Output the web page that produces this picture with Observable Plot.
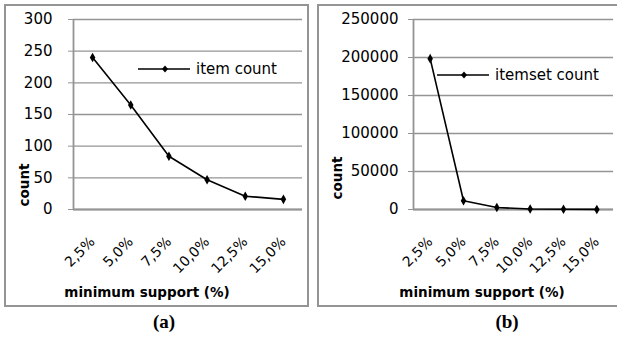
<!DOCTYPE html>
<html>
<head>
<meta charset="utf-8">
<script src="https://cdn.jsdelivr.net/npm/d3@7"></script>
<script src="https://cdn.jsdelivr.net/npm/@observablehq/plot@0.6"></script>
<style>
  html, body { margin: 0; padding: 0; background: #fff; }
  #page { position: relative; width: 617px; height: 338px; overflow: hidden; font-family: "DejaVu Sans", sans-serif; color: #000; }
  .box { position: absolute; box-sizing: border-box; border: 2px solid #949494; }
  .plot { position: absolute; top: 0; }
  .plot svg { overflow: visible; }
  .plot [aria-label="y-axis tick"] { stroke: #949494; }
  .legend { position: absolute; display: flex; align-items: center; font-size: 15px; white-space: nowrap; }
  .xtitle { position: absolute; font-weight: bold; font-size: 13.5px; transform: translate(-50%, -50%); white-space: nowrap; }
  .ytitle { position: absolute; font-weight: bold; font-size: 13.5px; transform: translate(-50%, -50%) rotate(-90deg); white-space: nowrap; }
  .panel-label { position: absolute; font-family: "Liberation Serif", "DejaVu Serif", serif; font-weight: bold; font-size: 19px; transform: translate(-50%, -50%); }
</style>
</head>
<body>
<div id="page">
  <div class="box" style="left:4px; top:4px; width:305px; height:303px;"></div>
  <div class="box" style="left:317px; top:4px; width:310px; height:303px;"></div>
  <div id="plotA" class="plot" style="left:0px;"></div>
  <div id="plotB" class="plot" style="left:310px;"></div>
  <div class="legend" id="legA" style="left:138px; top:59px;"></div>
  <div class="legend" id="legB" style="left:437px; top:65px;"></div>
  <div class="ytitle" style="left:24px; top:185px;">count</div>
  <div class="ytitle" style="left:337px; top:178px;">count</div>
  <div class="xtitle" style="left:147px; top:292px;">minimum support (%)</div>
  <div class="xtitle" style="left:482px; top:292px;">minimum support (%)</div>
  <div class="panel-label" style="left:164px; top:322px;">(a)</div>
  <div class="panel-label" style="left:507px; top:322px;">(b)</div>
</div>
<script>
const categories = ["2,5%", "5,0%", "7,5%", "10,0%", "12,5%", "15,0%"];
const itemCount = [240, 165, 84, 47, 21, 16];
const itemsetCount = [198500, 11500, 2600, 700, 250, 100];
const yTicksA = [0, 50, 100, 150, 200, 250, 300];
const yTicksB = [0, 50000, 100000, 150000, 200000, 250000];
const seriesNames = ["item count", "itemset count"];

const GRID = "#949494";

function makeChart(values, yTicks, opts) {
  const data = values.map((v, i) => ({i, v}));
  return Plot.plot({
    width: opts.width,
    height: 310,
    marginLeft: opts.marginLeft,
    marginRight: opts.marginRight,
    marginTop: 19,
    marginBottom: 101,
    style: {fontFamily: "DejaVu Sans, sans-serif", color: "#000", background: "transparent", overflow: "visible"},
    x: {domain: [-0.5, categories.length - 0.5], axis: null},
    y: {domain: [0, yTicks[yTicks.length - 1]], axis: null},
    marks: [
      Plot.gridY(yTicks, {stroke: GRID, strokeOpacity: 1, strokeWidth: 1.4}),
      Plot.ruleX([-0.5], {stroke: GRID, strokeWidth: 1.8}),
      Plot.ruleY([0], {stroke: GRID, strokeWidth: 1.8}),
      Plot.axisY({ticks: yTicks, tickSize: 5, tickPadding: opts.tickPadding, tickFormat: d3.format("d"), fontSize: 15, fill: "#000", label: null}),
      Plot.axisX({ticks: d3.range(categories.length), tickFormat: i => categories[i], tickRotate: -45, tickSize: 0, tickPadding: 30, fontSize: 14, fill: "#000", label: null}),
      Plot.line(data, {x: "i", y: "v", stroke: "#000", strokeWidth: 1.6}),
      Plot.dot(data, {x: "i", y: "v", symbol: "diamond", r: 2.9, fill: "#000", stroke: "none"})
    ]
  });
}

document.getElementById("plotA").appendChild(makeChart(itemCount, yTicksA, {width: 310, marginLeft: 73, marginRight: 8, tickPadding: 16}));
document.getElementById("plotB").appendChild(makeChart(itemsetCount, yTicksB, {width: 307, marginLeft: 103, marginRight: 4, tickPadding: 10}));

function legend(id, name) {
  const el = document.getElementById(id);
  el.innerHTML = `<svg width="52" height="20" style="overflow:visible"><line x1="0" y1="10" x2="52" y2="10" stroke="#000" stroke-width="1.6"/><path d="M27,6.5 L30,10 L27,13.5 L24,10 Z" fill="#000"/></svg><span style="margin-left:6px">${name}</span>`;
}
legend("legA", seriesNames[0]);
legend("legB", seriesNames[1]);
</script>
</body>
</html>
